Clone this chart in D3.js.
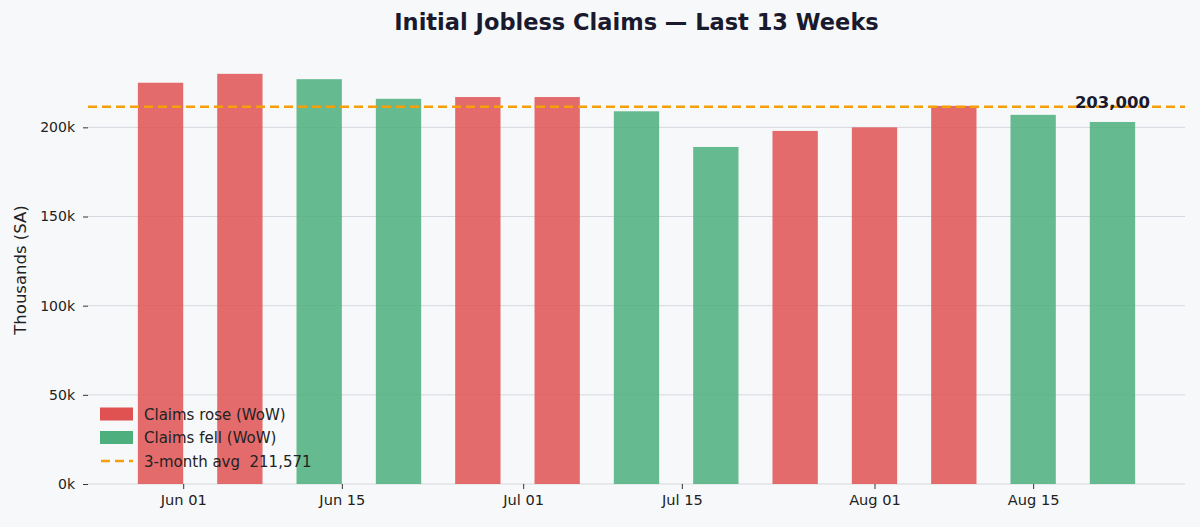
<!DOCTYPE html>
<html lang="en">
<head>
<meta charset="UTF-8" />
<title>Initial Jobless Claims</title>
<script src="https://cdn.jsdelivr.net/npm/d3@7"></script>
<style>
  html, body { margin: 0; padding: 0; background: #f7f8fa; }
  svg { display: block; font-family: "DejaVu Sans", sans-serif; }
</style>
</head>
<body>
<div id="chart"></div>
<script>
// weekly data (week ending, thousands, seasonally adjusted)
const weeks = ["2026-05-30", "2026-06-06", "2026-06-13", "2026-06-20", "2026-06-27", "2026-07-04",
  "2026-07-11", "2026-07-18", "2026-07-25", "2026-08-01", "2026-08-08", "2026-08-15", "2026-08-22"];
const claims = [225, 230, 227, 216, 217, 217, 209, 189, 198, 200, 212, 207, 203];
// week-over-week direction as shown by the bar colour
const direction = ["rose", "rose", "fell", "fell", "rose", "rose", "fell", "fell", "rose", "rose", "rose", "fell", "fell"];
const avg3m = 211.571;
const yTicks = [0, 50, 100, 150, 200];
const xTicks = ["2026-06-01", "2026-06-15", "2026-07-01", "2026-07-15", "2026-08-01", "2026-08-15"];
const legendItems = ["Claims rose (WoW)", "Claims fell (WoW)", "3-month avg  211,571"];

const W = 1200, H = 527;
const margin = { top: 56, right: 15, bottom: 43, left: 88 };
const width = W - margin.left - margin.right,
      height = H - margin.top - margin.bottom;

const parse = d3.utcParse("%Y-%m-%d");
const day = 864e5;
const data = weeks.map((w, i) => ({ date: parse(w), value: claims[i], dir: direction[i] }));

const barDays = 4;
const first = data[0].date.getTime() - barDays / 2 * day;
const last = data[data.length - 1].date.getTime() + barDays / 2 * day;
const pad = (last - first) * 0.05;

const x = d3.scaleUtc()
  .domain([new Date(first - pad), new Date(last + pad)])
  .range([0, width]);
const y = d3.scaleLinear()
  .domain([0, 240])
  .range([height, 0]);

const color = { rose: "#e05252", fell: "#4caf7d" };

const svg = d3.select("#chart").append("svg")
  .attr("width", W).attr("height", H);
const g = svg.append("g")
  .attr("transform", `translate(${margin.left},${margin.top})`);

// grid
g.append("g")
  .selectAll("line")
  .data(yTicks)
  .join("line")
  .attr("x1", 0).attr("x2", width)
  .attr("y1", d => y(d)).attr("y2", d => y(d))
  .attr("stroke", "#d5d8de").attr("stroke-width", 1);

// y axis
const yAxis = g.append("g")
  .call(d3.axisLeft(y).tickValues(yTicks).tickFormat(d => d + "k").tickSize(5).tickPadding(8));
yAxis.select(".domain").remove();
yAxis.selectAll(".tick line").attr("stroke", "#333");
yAxis.selectAll("text").attr("fill", "#222").style("font-size", "14px").style("font-family", "DejaVu Sans");

// x axis
const xAxis = g.append("g")
  .attr("transform", `translate(0,${height})`)
  .call(d3.axisBottom(x).tickValues(xTicks.map(parse)).tickFormat(d3.utcFormat("%b %d")).tickSize(5).tickPadding(6));
xAxis.select(".domain").remove();
xAxis.selectAll(".tick line").attr("stroke", "#333");
xAxis.selectAll("text").attr("fill", "#222").style("font-size", "14.6px").style("font-family", "DejaVu Sans");

// bars
const bw = x(new Date(first + barDays * day)) - x(new Date(first));
g.append("g")
  .selectAll("rect")
  .data(data)
  .join("rect")
  .attr("x", d => x(d.date) - bw / 2)
  .attr("y", d => y(d.value))
  .attr("width", bw)
  .attr("height", d => y(0) - y(d.value))
  .attr("fill", d => color[d.dir])
  .attr("fill-opacity", 0.85);

// 3-month average
g.append("line")
  .attr("x1", 0).attr("x2", width)
  .attr("y1", y(avg3m)).attr("y2", y(avg3m))
  .attr("stroke", "#f5a00b").attr("stroke-width", 2.5)
  .attr("stroke-dasharray", "9,5");

// latest value label
const lastD = data[data.length - 1];
g.append("text")
  .attr("x", x(lastD.date))
  .attr("y", y(lastD.value) - 14)
  .attr("text-anchor", "middle")
  .attr("fill", "#1a1a2e")
  .style("font-size", "16.5px").style("font-weight", "bold")
  .text(d3.format(",")(lastD.value * 1000));

// title, centred over the plot area
svg.append("text")
  .attr("x", margin.left + width / 2).attr("y", 30)
  .attr("text-anchor", "middle")
  .attr("fill", "#1a1a2e")
  .style("font-size", "22.5px").style("font-weight", "bold")
  .text("Initial Jobless Claims \u2014 Last 13 Weeks");

// y label
svg.append("text")
  .attr("transform", `translate(26,270) rotate(-90)`)
  .attr("text-anchor", "middle")
  .attr("fill", "#222")
  .style("font-size", "16.5px")
  .text("Thousands (SA)");

// legend
const lg = g.append("g").attr("transform", "translate(12,0)");
const rows = lg.selectAll("g")
  .data(legendItems)
  .join("g")
  .attr("transform", (d, i) => `translate(0,${358 + i * 23.5})`);
rows.each(function (d, i) {
  const r = d3.select(this);
  if (i < 2) {
    r.append("rect")
      .attr("x", 0).attr("y", -6.5)
      .attr("width", 33).attr("height", 13)
      .attr("fill", i === 0 ? color.rose : color.fell);
  } else {
    r.append("line")
      .attr("x1", 1).attr("x2", 33).attr("y1", 0).attr("y2", 0)
      .attr("stroke", "#f5a00b").attr("stroke-width", 2.5)
      .attr("stroke-dasharray", "9,5");
  }
  r.append("text")
    .attr("x", 44).attr("y", 5.5)
    .attr("fill", "#222")
    .style("font-size", "15px")
    .style("white-space", "pre")
    .text(d);
});
</script>
</body>
</html>
